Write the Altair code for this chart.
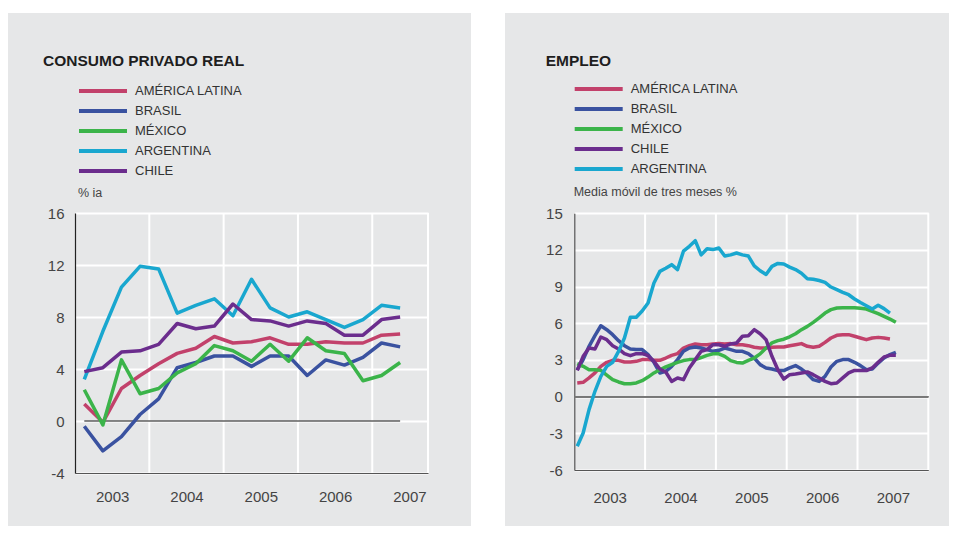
import altair as alt
import pandas as pd

GRAY = "#e6e7e8"
FONT = "Liberation Sans"

# ---------------- Left panel: CONSUMO PRIVADO REAL (quarterly, 2003Q1-2007Q2) -------------
quarters = ["2003T1", "2003T2", "2003T3", "2003T4", "2004T1", "2004T2", "2004T3", "2004T4",
            "2005T1", "2005T2", "2005T3", "2005T4", "2006T1", "2006T2", "2006T3", "2006T4",
            "2007T1", "2007T2"]
left_names = ["AMÉRICA LATINA", "BRASIL", "MÉXICO", "ARGENTINA", "CHILE"]
left_colors = ["#c2416b", "#3a52a0", "#3bb44a", "#19a7cf", "#6b2d8d"]

cons_al = [1.3, -0.1, 2.5, 3.5, 4.4, 5.2, 5.6, 6.5, 6.0, 6.1, 6.4, 5.9, 5.9, 6.1, 6.0, 6.0, 6.6, 6.7]
cons_br = [-0.4, -2.3, -1.2, 0.5, 1.7, 4.1, 4.5, 5.0, 5.0, 4.2, 5.0, 5.0, 3.5, 4.7, 4.3, 4.9, 6.0, 5.7]
cons_mx = [2.4, -0.3, 4.7, 2.1, 2.5, 3.7, 4.4, 5.8, 5.4, 4.6, 5.9, 4.6, 6.4, 5.4, 5.2, 3.1, 3.5, 4.5]
cons_ar = [3.2, 6.9, 10.3, 11.9, 11.7, 8.3, 8.9, 9.4, 8.1, 10.9, 8.7, 8.0, 8.4, 7.8, 7.2, 7.8, 8.9, 8.7]
cons_cl = [3.8, 4.1, 5.3, 5.4, 5.9, 7.5, 7.1, 7.3, 9.0, 7.8, 7.7, 7.3, 7.7, 7.5, 6.6, 6.6, 7.8, 8.0]

left_y_ticks = [-4, 0, 4, 8, 12, 16]
left_year_lines = [2004, 2005, 2006, 2007, 2007.75]
year_labels = [2003, 2004, 2005, 2006, 2007]

# ---------------- Right panel: EMPLEO (monthly, three-month moving average) ---------------
right_names = ["AMÉRICA LATINA", "BRASIL", "MÉXICO", "CHILE", "ARGENTINA"]
right_colors = ["#c2416b", "#3a52a0", "#3bb44a", "#6b2d8d", "#19a7cf"]

emp_al = [1.12, 1.17, 1.53, 1.94, 2.48, 2.81, 2.97, 2.97, 2.84, 2.84, 2.89, 3.03,
          3.03, 2.97, 2.97, 3.16, 3.38, 3.52, 3.98, 4.17, 4.31, 4.25, 4.25, 4.31,
          4.34, 4.31, 4.34, 4.25, 4.25, 4.17, 4.04, 3.98, 3.98, 4.04, 4.06, 4.06,
          4.17, 4.25, 4.34, 4.12, 4.04, 4.12, 4.44, 4.80, 5.02, 5.07, 5.07, 4.94,
          4.80, 4.66, 4.80, 4.85, 4.80, 4.72]
emp_br = [2.20, 3.03, 4.12, 4.99, 5.80, 5.48, 5.07, 4.58, 4.17, 3.90, 3.85, 3.85,
          3.44, 2.81, 1.94, 2.07, 2.48, 3.03, 3.71, 3.98, 4.06, 3.98, 3.85, 3.71,
          3.79, 3.98, 3.85, 3.71, 3.71, 3.52, 3.16, 2.62, 2.35, 2.26, 2.13, 2.13,
          2.35, 2.54, 2.26, 1.88, 1.39, 1.25, 1.66, 2.43, 2.89, 3.03, 3.03, 2.81,
          2.54, 2.20, 2.26, 2.75, 3.16, 3.44, 3.63]
emp_mx = [2.70, 2.48, 2.20, 2.20, 2.15, 1.77, 1.39, 1.20, 1.06, 1.06, 1.12, 1.31,
          1.60, 1.94, 2.20, 2.43, 2.62, 2.80, 2.95, 3.03, 3.03, 3.20, 3.38, 3.50,
          3.50, 3.30, 2.95, 2.80, 2.75, 2.97, 3.16, 3.50, 3.98, 4.40, 4.58, 4.70,
          4.90, 5.15, 5.48, 5.75, 6.08, 6.44, 6.84, 7.12, 7.25, 7.28, 7.28, 7.28,
          7.23, 7.17, 6.98, 6.79, 6.57, 6.35, 6.08]
emp_cl = [2.15, 3.30, 3.98, 3.90, 4.88, 4.66, 4.17, 3.90, 3.52, 3.35, 3.52, 3.52,
          3.35, 2.89, 2.26, 2.02, 1.25, 1.53, 1.39, 2.35, 3.03, 3.71, 3.85, 4.25,
          4.25, 4.12, 4.31, 4.39, 4.94, 4.99, 5.48, 5.15, 4.66, 3.30, 2.20, 1.44,
          1.80, 1.85, 1.94, 2.02, 1.80, 1.53, 1.25, 1.06, 1.12, 1.53, 1.94, 2.15,
          2.13, 2.13, 2.35, 2.81, 3.25, 3.38, 3.38]
emp_ar = [-4.06, -2.97, -1.06, 0.44, 1.66, 2.48, 2.81, 3.70, 4.80, 6.50, 6.50, 7.00,
          7.66, 9.30, 10.25, 10.50, 10.80, 10.40, 11.90, 12.30, 12.76, 11.60, 12.10, 12.03,
          12.16, 11.50, 11.60, 11.75, 11.60, 11.50, 10.70, 10.30, 10.00, 10.66, 10.90, 10.85,
          10.60, 10.40, 10.10, 9.65, 9.60, 9.50, 9.35, 8.97, 8.75, 8.53, 8.34, 7.99,
          7.70, 7.44, 7.17, 7.47, 7.20, 6.84]

right_y_ticks = [-6, -3, 0, 3, 6, 9, 12, 15]
right_year_lines = [2004, 2005, 2006, 2007, 2008]


def quarter_time(q):
    return int(q[:4]) + (int(q[-1]) - 0.5) / 4


def month_time(i):
    return 2003 + (i + 0.5) / 12


left_rows = []
for name, vals in zip(left_names, [cons_al, cons_br, cons_mx, cons_ar, cons_cl]):
    for q, v in zip(quarters, vals):
        left_rows.append({"t": quarter_time(q), "v": v, "s": name})
left_df = pd.DataFrame(left_rows)

right_rows = []
for name, vals in zip(right_names, [emp_al, emp_br, emp_mx, emp_cl, emp_ar]):
    for i, v in enumerate(vals):
        right_rows.append({"t": month_time(i), "v": v, "s": name})
right_df = pd.DataFrame(right_rows)

PW, PH_L, PH_R = 463, 513, 513
RW = 444


def panel(df, names, colors, title, subtitle, xdom, xrange, ydom, yrange, yticks,
          ylines, ycolor, xlab_pad, ylab_pad, legend_x, legend_y, title_x, sub_x, sub_y,
          zero_color, zero_width, zero_full, width, height):
    xscale = alt.Scale(domain=xdom, range=xrange, nice=False, zero=False)
    yscale = alt.Scale(domain=ydom, range=yrange, nice=False, zero=False)
    lab_vals = [y + 0.5 for y in year_labels]
    xaxis = alt.Axis(values=lab_vals, labelExpr="'' + floor(datum.value)", grid=False,
                     ticks=False, tickSize=0, domainColor="#555555", domainWidth=1.2,
                     labelFontSize=15, labelColor="#444444", labelFont=FONT,
                     labelPadding=xlab_pad, offset=yrange[0] - height, title=None)
    yaxis = alt.Axis(values=yticks, labelExpr="'' + datum.value", grid=True,
                     gridColor="white", gridWidth=2,
                     ticks=False, tickSize=0, domainColor=ycolor, domainWidth=1.2,
                     labelFontSize=15, labelColor="#444444", labelFont=FONT,
                     labelPadding=ylab_pad, offset=-xrange[0], title=None)

    grid_df = pd.DataFrame({"g": ylines})
    vgrid = alt.Chart(grid_df).mark_rule(color="white", strokeWidth=2).encode(
        x=alt.X("g:Q", scale=xscale, axis=xaxis),
        y=alt.datum(ydom[0], scale=yscale, axis=yaxis),
        y2=alt.datum(ydom[1]),
    )
    if zero_full:
        zero = alt.Chart(grid_df).mark_rule(color=zero_color, strokeWidth=zero_width).encode(
            x=alt.datum(xdom[0]), x2=alt.datum(xdom[1]), y=alt.datum(0))
    else:
        zero = alt.Chart(df).mark_rule(color=zero_color, strokeWidth=zero_width).encode(
            x="min(t):Q", x2="max(t):Q", y=alt.datum(0))

    lines = alt.Chart(df).mark_line(strokeWidth=3.5, strokeJoin="round").encode(
        x=alt.X("t:Q"),
        y=alt.Y("v:Q"),
        color=alt.Color("s:N", sort=names,
                        scale=alt.Scale(domain=names, range=colors),
                        legend=alt.Legend(title=None, orient="none", legendX=legend_x,
                                          legendY=legend_y, symbolType="stroke",
                                          symbolSize=2304, symbolStrokeWidth=4,
                                          clipHeight=14, rowPadding=6, labelOffset=6,
                                          labelFontSize=13, labelFont=FONT,
                                          labelColor="#333333", padding=0)),
        order=alt.Order("t:Q"),
    )

    ttl = alt.Chart(pd.DataFrame({"txt": [title]})).mark_text(
        align="left", baseline="alphabetic", fontSize=15.5, fontWeight="bold",
        font=FONT, color="#1e1e1e").encode(
        x=alt.value(title_x), y=alt.value(52.5), text="txt:N")
    sub = alt.Chart(pd.DataFrame({"txt": [subtitle]})).mark_text(
        align="left", baseline="alphabetic", fontSize=12.5, font=FONT,
        color="#444444").encode(
        x=alt.value(sub_x), y=alt.value(sub_y), text="txt:N")

    return alt.layer(vgrid, zero, lines, ttl, sub).properties(
        width=width, height=height,
        view=alt.ViewBackground(fill=GRAY, stroke=None))


left = panel(left_df, left_names, left_colors, "CONSUMO PRIVADO REAL", "% ia",
             [2003, 2007.75], [67, 420], [-4, 16], [460, 200], left_y_ticks,
             left_year_lines, "#222222", 16, 11, 69, 71, 35, 70, 184,
             "#111111", 1.2, False, PW, PH_L)
right = panel(right_df, right_names, right_colors, "EMPLEO", "Media móvil de tres meses %",
              [2003, 2008], [69.3, 423.3], [-6, 15], [457, 200.3], right_y_ticks,
              right_year_lines, "#555555", 20, 12, 67.7, 69, 40.7, 68.7, 183,
              "#777777", 1.5, True, RW, PH_R)

chart = alt.hconcat(left, right, spacing=34).resolve_scale(
    color="independent").properties(
    padding={"top": 5, "left": 0, "right": 0, "bottom": 0}
).configure(background="white").configure_view(stroke=None)

chart.save("out.html", embed_options={"renderer": "svg", "actions": False})
